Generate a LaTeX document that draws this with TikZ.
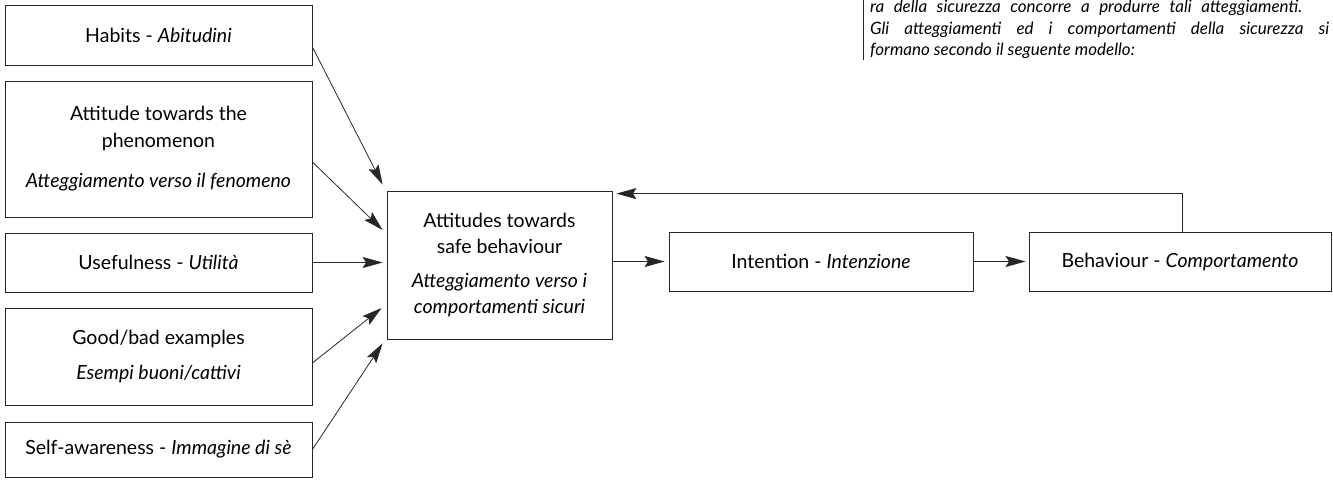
\documentclass[tikz,border=0pt]{standalone}
\usepackage{fontspec}
\setmainfont{Lato}
\usetikzlibrary{arrows.meta,calc}
\tikzset{
  box/.style={draw=black!85, line width=0.8pt, inner sep=0pt, align=center,
    font=\fontsize{19.5}{26.5}\selectfont},
  arr/.style={draw=black!85, line width=0.8pt, -{Stealth[length=20pt,width=11pt,inset=3.5pt]}},
  note/.style={font=\fontsize{17}{21}\selectfont\itshape, anchor=base west, inner sep=0pt},
}
\begin{document}
\begin{tikzpicture}[x=1pt,y=-1pt]
\useasboundingbox (0,0) rectangle (1333,481);
% left boxes
\node[box, minimum width=307pt, minimum height=60pt] (habits) at (158.5,35) {Habits - \textit{Abitudini}};
\node[box, minimum width=307pt, minimum height=136pt] (phen) at (158.5,149)
  {Attitude towards the\\phenomenon\\[14pt]\textit{Atteggiamento verso il fenomeno}};
\node[box, minimum width=307pt, minimum height=59pt] (use) at (158.5,262.5) {Usefulness - \textit{Utilità}};
\node[box, minimum width=307pt, minimum height=97pt] (good) at (158.5,356.5)
  {Good/bad examples\\[9pt]\textit{Esempi buoni/cattivi}};
\node[box, minimum width=307pt, minimum height=55pt] (self) at (158.5,449.5) {Self-awareness - \textit{Immagine di sè}};
% central chain
\node[box, minimum width=225pt, minimum height=148pt] (center) at (499.5,265)
  {Attitudes towards\\safe behaviour\\[7pt]\textit{Atteggiamento verso i}\\\textit{comportamenti sicuri}};
\node[box, minimum width=304pt, minimum height=59pt] (intent) at (821,261.5) {Intention - \textit{Intenzione}};
\node[box, minimum width=302pt, minimum height=59pt] (behav) at (1180,261.5) {Behaviour - \textit{Comportamento}};
% arrows into centre box
\draw[arr] ([yshift=-12pt]habits.east) -- ([shift={(-4pt,6pt)}]center.north west);
\draw[arr] ([yshift=-13pt]phen.east) -- ([shift={(-4pt,35pt)}]center.west);
\draw[arr] (use.east) -- ([xshift=-4pt]use.east -| center.west);
\draw[arr] ([yshift=-6.5pt]good.east) -- ([shift={(-5pt,-43pt)}]center.west);
\draw[arr] (self.east) -- ([shift={(-4pt,-4pt)}]center.south west);
% chain
\draw[arr] (center.east |- intent.west) -- ([xshift=-4pt]intent.west);
\draw[arr] (intent.east) -- ([xshift=-3pt]behav.west);
\draw[arr] ([xshift=2pt]behav.north) |- ([shift={(4pt,-3pt)}]center.north east);
% top-right text
\node[note] (l1) at (870,13) {\makebox[432pt][s]{ra della sicurezza concorre a produrre tali atteggiamenti.}};
\node[note] (l2) at (870,35) {\makebox[459pt][s]{Gli atteggiamenti ed i comportamenti della sicurezza si}};
\node[note] (l3) at (870,56) {formano secondo il seguente modello:};
\coordinate (bart) at (863,0);
\coordinate (barb) at (863,60);
\draw[line width=1pt, black!85] (bart) -- (barb);
\end{tikzpicture}
\end{document}
